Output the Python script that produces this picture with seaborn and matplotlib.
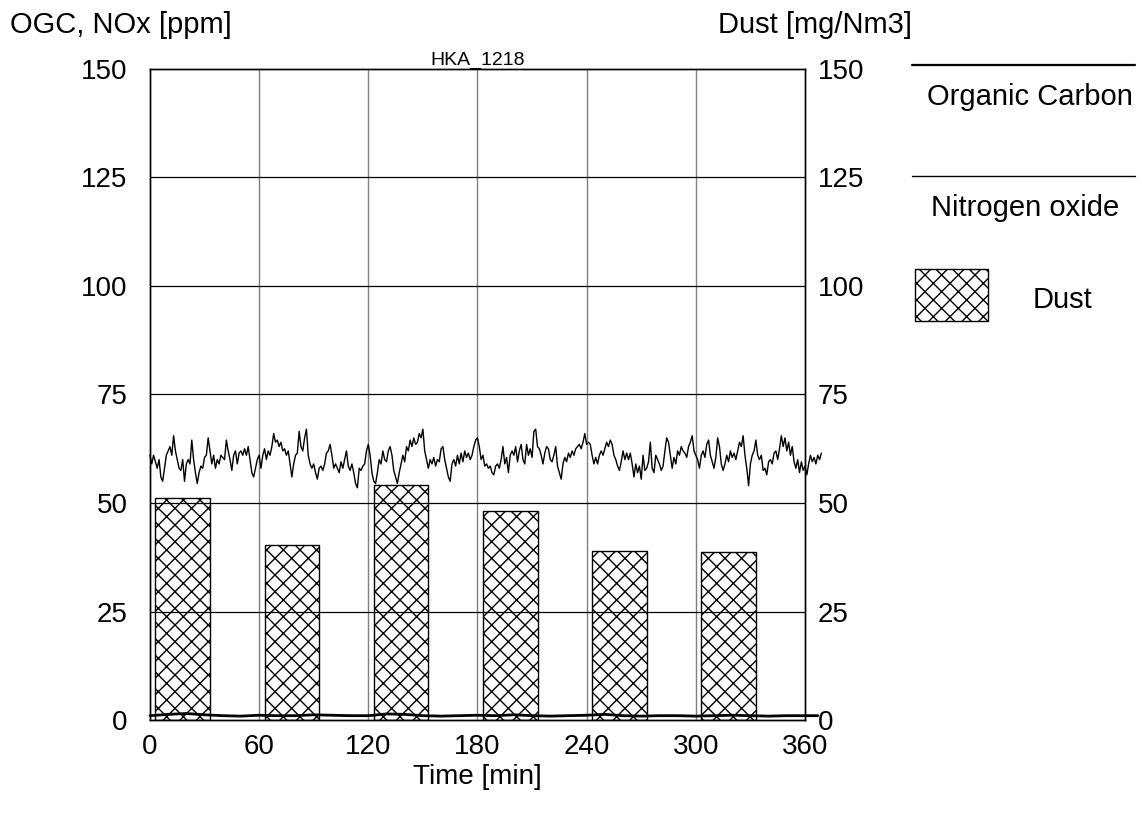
import numpy as np
import pandas as pd
import matplotlib
matplotlib.use("Agg")
import matplotlib.pyplot as plt
from matplotlib.lines import Line2D
from matplotlib.patches import Rectangle
import seaborn as sns

# --------------------------
# Data
# --------------------------
# NOx [ppm], one reading per minute, t = 0 .. 369 min
nox_ppm = [
    61, 59, 61, 59.5, 58, 60, 56, 55, 58, 61, 62, 63, 61, 65.5, 62, 60, 58, 57.5, 60, 55,
    59, 60, 59, 64.5, 60, 57, 54.5, 57, 58.5, 58, 60.5, 61, 65, 62, 59, 61, 58, 60, 59, 61,
    60.5, 60, 64.5, 62, 60, 57.5, 61, 62, 59, 61.5, 62, 61, 62.5, 61, 63, 60, 57, 56, 58, 60,
    61,
    58, 61, 62.5, 60, 62, 61, 63, 66, 64, 64.5, 63, 64, 62, 62.5, 61, 62, 59, 56, 59, 61,
    61.5, 66.5, 63, 62, 65, 67, 61, 59, 58, 59, 57, 55.5, 58, 58.5, 57.5, 59, 61.5, 62, 63.5, 61,
    58, 59, 58, 57, 59.5, 58, 60, 62, 58.5, 57.5, 59, 57, 54.5, 53.5, 58, 57.5, 58.5, 59, 62, 63.5,
    61, 57, 55, 54.5, 57, 60, 59, 62, 60, 59.5, 62, 63, 61, 57.5, 56, 54.5, 57, 59, 61, 59.5,
    63, 62, 64.5, 63, 65, 63.5, 64, 66, 65, 67, 62, 60, 58, 60, 59, 60.5, 58.5, 60, 59.5, 62.5,
    63, 60, 58, 56, 55, 59, 60, 58.5, 61, 59, 61.5, 59.5, 62, 60.5, 61.5, 60, 61, 63, 64.5, 65,
    63, 60, 61, 58.5, 59, 58, 58.5, 57, 56.5, 58.5, 59, 58, 60, 63, 59, 60.5, 57, 61, 62, 61,
    63, 59.5, 62, 63.5, 60, 59, 63.5, 61, 62.5, 60.5, 66.5, 67, 63, 62.5, 61, 59, 61.5, 63, 62.5, 60,
    59.5, 61, 63, 58.5, 57, 55.5, 59, 60.5, 59.5, 61.5, 60.5, 62, 61, 62.5, 63, 63.5, 62.5, 64, 66, 63.5,
    64, 63.5, 61, 59, 60.5, 59, 61, 62, 61, 62.5, 64, 63, 64.5, 63.5, 61, 60, 58.5, 57.5, 59.5, 62,
    60, 61.5, 60, 61.5, 59, 56, 59, 57, 58.5, 55.5, 61, 57.5, 58, 59.5, 64, 58, 57, 61, 60, 59,
    57.5, 58.5, 62, 65, 64, 61, 58, 60.5, 59, 62, 61, 63, 62, 61.5, 60.5, 63, 64, 65.5, 62, 61,
    60, 58, 61, 62, 60.5, 63.5, 64.5, 61, 59.5, 58, 60.5, 65, 63, 59, 57.5, 59, 61, 59.5, 62, 60.5,
    61.5, 60, 62, 64, 63, 65.5, 61, 58, 54, 59, 61, 62, 64.5, 61, 60, 61, 57.5, 58, 56.5, 59.5,
    60, 59, 61.5, 62, 60, 62.5, 65.5, 63, 65, 62, 64, 61, 63, 59.5, 58, 60, 57, 59.5, 57.5, 58.5,
    56.5, 59, 61, 59.5, 60.5, 59, 61, 60, 61.5,
]
nox_time = np.arange(len(nox_ppm))

# Organic carbon [ppm], every 10 min
oc_time = list(range(0, 361, 10)) + [367]
oc_ppm = [1.0, 1.3, 1.5, 1.2, 1.0, 0.9, 1.1, 1.0, 1.0, 1.2, 1.1, 1.0, 1.0, 1.4, 1.3, 1.0,
          0.9, 1.0, 1.1, 1.0, 1.2, 1.0, 0.9, 1.0, 1.1, 1.3, 1.0, 0.9, 1.0, 1.0, 0.9, 1.0,
          1.1, 1.0, 0.9, 1.0, 1.0, 1.0]

# Dust [mg/Nm3], one sample per hour (start minute, duration 30 min)
dust_start = [3, 63, 123, 183, 243, 303]
dust_len = 30
dust_mg = [51.1, 40.3, 54.1, 48.2, 38.9, 38.7]

df_nox = pd.DataFrame({"t": nox_time, "v": nox_ppm})
df_oc = pd.DataFrame({"t": oc_time, "v": oc_ppm})

# --------------------------
# Plot
# --------------------------
sns.set_style("white")
plt.rcParams["font.family"] = ["Liberation Sans", "DejaVu Sans"]
plt.rcParams["text.color"] = "black"
plt.rcParams["xtick.color"] = "black"
plt.rcParams["ytick.color"] = "black"
plt.rcParams["hatch.color"] = "#555555"
plt.rcParams["hatch.linewidth"] = 1.0

FS = 20

fig = plt.figure(figsize=(11.42, 8.21), dpi=100)
ax = fig.add_axes([0.1313, 0.123, 0.5736, 0.793])
ax2 = ax.twinx()

# dust bars on the right axis, behind the lines
ax2.bar(dust_start, dust_mg, width=dust_len, align="edge",
        facecolor="white", edgecolor="black", linewidth=1.0, hatch="xx")
ax2.set_ylim(0, 150)
ax2.set_yticks([0, 25, 50, 75, 100, 125, 150])
ax2.tick_params(axis="y", length=0, pad=9, labelsize=FS)

ax.set_zorder(ax2.get_zorder() + 1)
ax.patch.set_visible(False)

sns.lineplot(data=df_nox, x="t", y="v", ax=ax, color="black", linewidth=1.0,
             clip_on=False)
sns.lineplot(data=df_oc, x="t", y="v", ax=ax, color="black", linewidth=2.0,
             clip_on=False)

ax.set_xlim(0, 360)
ax.set_ylim(0, 150)
ax.set_xticks(range(0, 361, 60))
ax.set_yticks([0, 25, 50, 75, 100, 125, 150])
ax.tick_params(axis="both", length=0, labelsize=FS)
ax.tick_params(axis="y", pad=16)
ax.tick_params(axis="x", pad=10)
ax.set_xlabel("")
ax.set_ylabel("")

# grid: grey verticals, black horizontals
for xv in range(60, 360, 60):
    ax.axvline(xv, color="#808080", linewidth=1.0, zorder=0.5)
for yv in range(25, 150, 25):
    ax.axhline(yv, color="black", linewidth=0.9, zorder=0.5)

for a in (ax, ax2):
    for s in a.spines.values():
        s.set_color("black")
        s.set_linewidth(1.0)

ax.set_title("HKA_1218", fontsize=14, pad=2)
fig.text(0.009, 0.969, "OGC, NOx [ppm]", fontsize=21, ha="left", va="center")
fig.text(0.799, 0.969, "Dust [mg/Nm3]", fontsize=21, ha="right", va="center")
fig.text(0.4177, 0.053, "Time [min]", fontsize=FS, ha="center", va="center")

# legend drawn at the right side
fig.add_artist(Line2D([0.799, 0.994], [0.921, 0.921], color="black", lw=1.6,
                      transform=fig.transFigure))
fig.text(0.902, 0.882, "Organic Carbon", fontsize=21, ha="center", va="center")
fig.add_artist(Line2D([0.799, 0.994], [0.786, 0.786], color="black", lw=1.0,
                      transform=fig.transFigure))
fig.text(0.898, 0.747, "Nitrogen oxide", fontsize=21, ha="center", va="center")
fig.add_artist(Rectangle((0.801, 0.609), 0.064, 0.063, transform=fig.transFigure,
                         facecolor="white", edgecolor="black", lw=1.0, hatch="xx"))
fig.text(0.930, 0.635, "Dust", fontsize=21, ha="center", va="center")

fig.savefig("out.png", dpi=100)
